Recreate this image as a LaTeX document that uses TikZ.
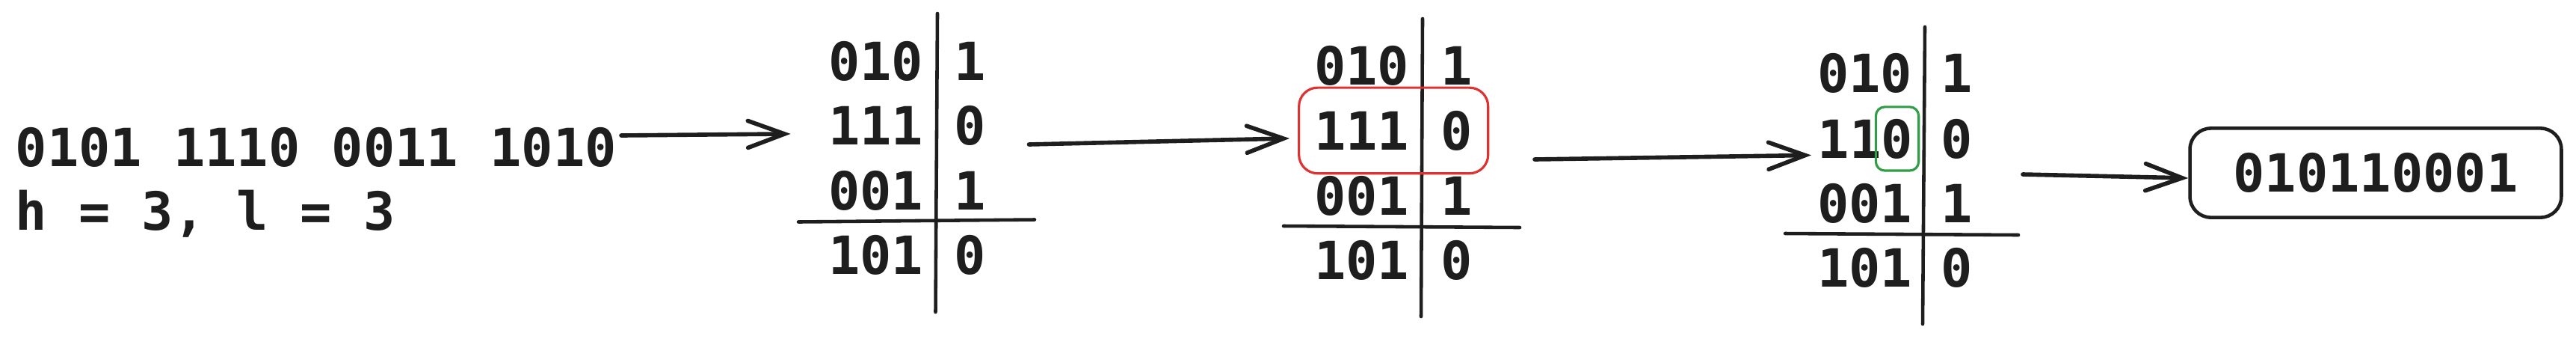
\documentclass[tikz,border=0pt]{standalone}
\usepackage{fontspec}
\setmonofont{DejaVu Sans Mono}
\usetikzlibrary{arrows.meta,fit}
\definecolor{ink}{HTML}{1E1E1E}
\definecolor{markred}{HTML}{E03131}
\definecolor{markgreen}{HTML}{2F9E44}
\tikzset{
  bits/.style={inner sep=0pt,font=\ttfamily\bfseries\fontsize{20}{24}\selectfont,text=ink},
  rule/.style={draw=ink,line width=1.3pt,line cap=round},
  flow/.style={draw=ink,line width=1.6pt,line cap=round,-{Straight Barb[length=4.9mm,width=3.6mm,line cap=round]}},
}

\begin{document}
\begin{tikzpicture}[x=1cm,y=1cm]
  \useasboundingbox (0,0) rectangle (34.46,-4.52);
  % input
  \node[bits,anchor=base west] (inp) at (0.20,-2.22) {0101 1110 0011 1010};
  \node[bits,anchor=base west] (hl) at (0.20,-3.07) {h = 3, l = 3};
  % first table
  \node[bits,anchor=base east] (t1l1) at (12.36,-1.07) {010};
  \node[bits,anchor=base east] (t1l2) at (12.36,-1.935) {111};
  \node[bits,anchor=base east] (t1l3) at (12.36,-2.80) {001};
  \node[bits,anchor=base east] (t1l4) at (12.36,-3.665) {101};
  \node[bits,anchor=base west] (t1r1) at (12.76,-1.07) {1};
  \node[bits,anchor=base west] (t1r2) at (12.76,-1.935) {0};
  \node[bits,anchor=base west] (t1r3) at (12.76,-2.80) {1};
  \node[bits,anchor=base west] (t1r4) at (12.76,-3.665) {0};
  \draw[rule] (12.54,-0.18) -- (12.515,-4.17);
  \draw[rule] (10.68,-2.965) -- (13.84,-2.935);
  % second table
  \node[bits,anchor=base east] (t2l1) at (18.86,-1.13) {010};
  \node[bits,anchor=base east] (t2l2) at (18.86,-2.00) {111};
  \node[bits,anchor=base east] (t2l3) at (18.86,-2.87) {001};
  \node[bits,anchor=base east] (t2l4) at (18.86,-3.73) {101};
  \node[bits,anchor=base west] (t2r1) at (19.27,-1.13) {1};
  \node[bits,anchor=base west] (t2r2) at (19.27,-2.00) {0};
  \node[bits,anchor=base west] (t2r3) at (19.27,-2.87) {1};
  \node[bits,anchor=base west] (t2r4) at (19.27,-3.73) {0};
  \draw[rule] (19.03,-0.25) -- (19.01,-4.23);
  \draw[rule] (17.17,-3.02) -- (20.33,-3.04);
  \node[draw=markred,line width=0.9pt,rounded corners=0.25cm,inner xsep=0.2cm,inner ysep=0.3cm,fit=(t2l2)(t2r2)] (row) {};
  % third table
  \node[bits,anchor=base east] (t3l1) at (25.59,-1.23) {010};
  \node[bits,anchor=base east] (t3l2) at (25.17,-2.11) {11};
  \node[bits,anchor=base,draw=markgreen,line width=0.9pt,rounded corners=0.12cm,inner xsep=0.075cm,inner ysep=0.16cm] (bit) at (25.38,-2.11) {0};
  \node[bits,anchor=base east] (t3l3) at (25.59,-2.97) {001};
  \node[bits,anchor=base east] (t3l4) at (25.59,-3.83) {101};
  \node[bits,anchor=base west] (t3r1) at (25.96,-1.23) {1};
  \node[bits,anchor=base west] (t3r2) at (25.96,-2.11) {0};
  \node[bits,anchor=base west] (t3r3) at (25.96,-2.97) {1};
  \node[bits,anchor=base west] (t3r4) at (25.96,-3.83) {0};
  \draw[rule] (25.75,-0.36) -- (25.72,-4.33);
  \draw[rule] (23.88,-3.12) -- (27.00,-3.14);
  % result
  \node[bits,draw=ink,line width=1.3pt,rounded corners=0.28cm,inner xsep=0.58cm,inner ysep=0.33cm] (res) at (31.78,-2.31) {010110001};
  % arrows
  \coordinate (a1) at (8.31,-1.81);
  \coordinate (a2) at (13.765,-1.93);
  \coordinate (a3) at (20.53,-2.13);
  \coordinate (a4) at (27.06,-2.33);
  \draw[flow] (a1) -- ([xshift=-0.50cm,yshift=-0.11cm]t1l2.west);
  \draw[flow] (a2) -- ([xshift=-0.11cm,yshift=-0.105cm]row.west);
  \draw[flow] (a3) -- ([xshift=-0.08cm,yshift=-0.22cm]t3l2.west);
  \draw[flow] (a4) -- ([yshift=-0.07cm]res.west);
\end{tikzpicture}
\end{document}
